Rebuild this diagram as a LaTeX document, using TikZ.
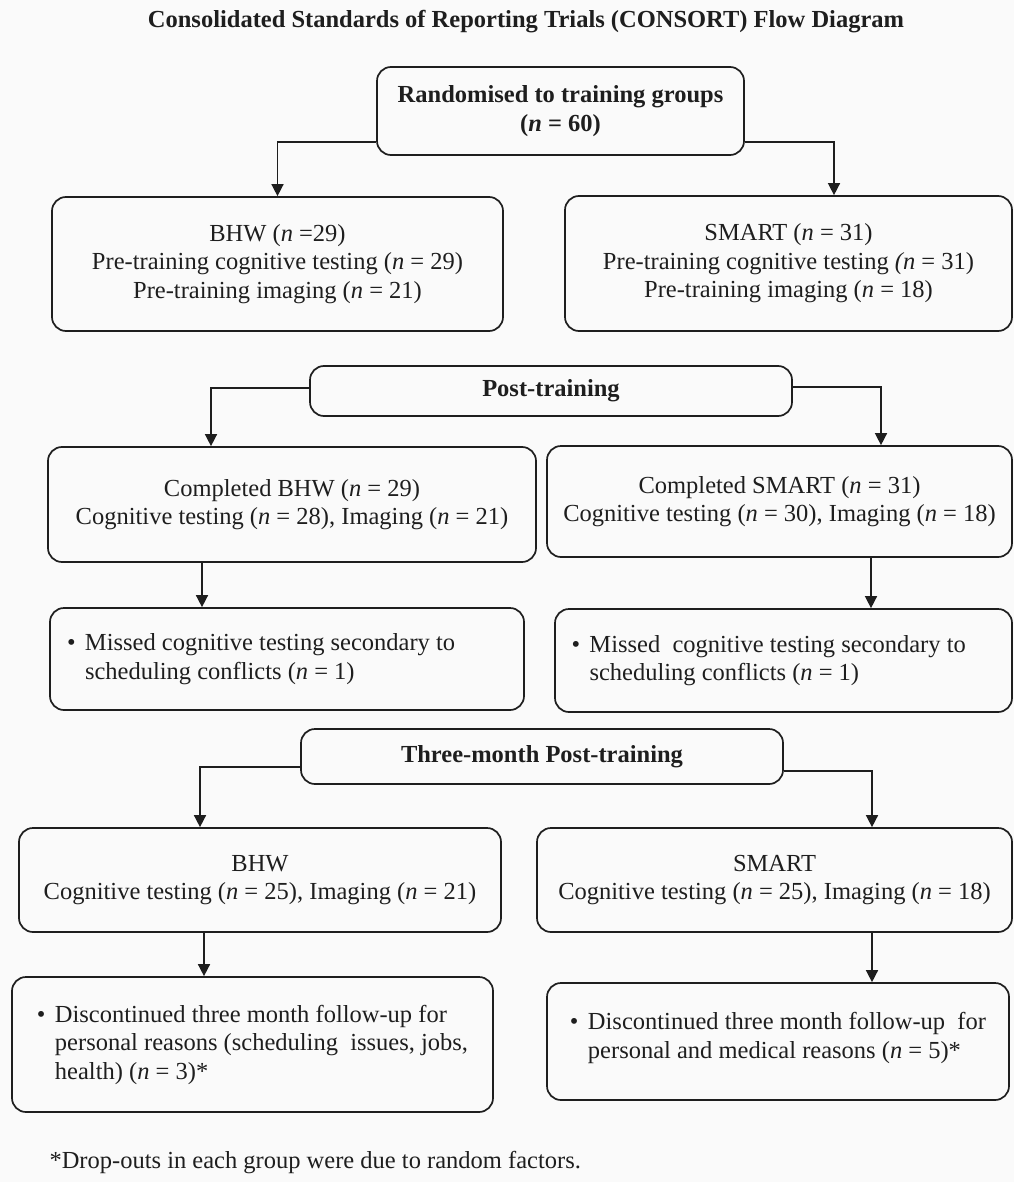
\documentclass[tikz,border=0pt]{standalone}
\usepackage{fontspec}
\setmainfont{Liberation Serif}
\usetikzlibrary{arrows.meta}
\definecolor{ink}{RGB}{30,30,30}
\definecolor{bgc}{RGB}{250,250,250}
\newcommand{\nn}{\textit{n}}
\newcommand{\bul}{\makebox[18pt][l]{\textbullet}}
\newcommand{\ind}{\hspace*{18pt}}
\begin{document}
\begin{tikzpicture}[x=1pt,y=-1pt,
  every node/.style={font=\fontsize{24.5}{28.5}\selectfont, text=ink},
  boldtext/.style={font=\fontsize{24.5}{28.5}\selectfont\bfseries},
  box/.style={draw=ink, line width=1.7pt, rounded corners=14pt, inner sep=0pt, align=center},
  arr/.style={draw=ink, line width=1.5pt, -{Triangle[length=12pt,width=12pt]}}]
\fill[bgc] (0,0) rectangle (1014,1182);
\useasboundingbox (0,0) rectangle (1014,1182);

\node[boldtext] (title) at (526,22) {Consolidated Standards of Reporting Trials (CONSORT) Flow Diagram};

\node[box, boldtext, minimum width=367pt, minimum height=88pt] (rand) at (560.5,111)
  {Randomised to training groups\\(\nn{} = 60)};

\node[box, minimum width=451pt, minimum height=134pt] (bhw1) at (277.5,264)
  {BHW (\nn{} =29)\\Pre-training cognitive testing (\nn{} = 29)\\Pre-training imaging (\nn{} = 21)};
\node[box, minimum width=447pt, minimum height=135pt] (smart1) at (788.5,263.5)
  {SMART (\nn{} = 31)\\Pre-training cognitive testing \textit{(n} = 31)\\Pre-training imaging (\nn{} = 18)};

\node[box, boldtext, minimum width=482pt, minimum height=50pt] (post) at (551,391) {Post-training};

\node[box, minimum width=488pt, minimum height=115pt] (comp1) at (292,504.5)
  {Completed BHW (\nn{} = 29)\\Cognitive testing (\nn{} = 28), Imaging (\nn{} = 21)};
\node[box, minimum width=465pt, minimum height=111pt] (comp2) at (779.5,501.5)
  {Completed SMART (\nn{} = 31)\\Cognitive testing (\nn{} = 30), Imaging (\nn{} = 18)};

\node[box, align=flush left, text width=440pt, minimum width=474pt, minimum height=102pt] (missL) at (287,659)
  {\bul Missed cognitive testing secondary to\\\ind scheduling conflicts (\nn{} = 1)};
\node[box, align=flush left, text width=424pt, minimum width=457pt, minimum height=103pt] (missR) at (783.5,660.5)
  {\bul Missed\ \ cognitive testing secondary to\\\ind scheduling conflicts (\nn{} = 1)};

\node[box, boldtext, minimum width=482pt, minimum height=55pt] (three) at (542,756.5) {Three-month Post-training};

\node[box, minimum width=482pt, minimum height=104pt] (bhw3) at (260,880)
  {BHW\\Cognitive testing (\nn{} = 25), Imaging (\nn{} = 21)};
\node[box, minimum width=475pt, minimum height=104pt] (smart3) at (774.5,880)
  {SMART\\Cognitive testing (\nn{} = 25), Imaging (\nn{} = 18)};

\node[box, align=flush left, minimum width=481pt, minimum height=135pt] (discL) at (252.5,1044.5)
  {\bul Discontinued three month follow-up for\\\ind personal reasons (scheduling\ \ issues, jobs,\\\ind health) (\nn{} = 3)*};
\node[box, align=flush left, minimum width=462pt, minimum height=117pt] (discR) at (778,1041.5)
  {\bul Discontinued three month follow-up\ \ for\\\ind personal and medical reasons (\nn{} = 5)*\\[-16pt]};

\node[anchor=west] (foot) at (46,1163) {*Drop-outs in each group were due to random factors.};

% connectors
\draw[arr] ([yshift=-31pt]rand.west) -| (bhw1.north);
\draw[arr] ([yshift=-31pt]rand.east) -| ([xshift=45.5pt]smart1.north);
\draw[arr] ([yshift=3pt]post.west) -| ([xshift=-81pt]comp1.north);
\draw[arr] ([yshift=4pt]post.east) -| ([xshift=101.5pt]comp2.north);
\draw[arr] ([xshift=-90pt]comp1.south) -- ([xshift=-90pt]comp1.south |- missL.north);
\draw[arr] ([xshift=91.5pt]comp2.south) -- ([xshift=91.5pt]comp2.south |- missR.north);
\draw[arr] ([yshift=-10.5pt]three.west) -| ([xshift=-60pt]bhw3.north);
\draw[arr] ([yshift=-14.5pt]three.east) -| ([xshift=97.5pt]smart3.north);
\draw[arr] ([xshift=-56pt]bhw3.south) -- ([xshift=-56pt]bhw3.south |- discL.north);
\draw[arr] ([xshift=97.5pt]smart3.south) -- ([xshift=97.5pt]smart3.south |- discR.north);
\end{tikzpicture}
\end{document}
